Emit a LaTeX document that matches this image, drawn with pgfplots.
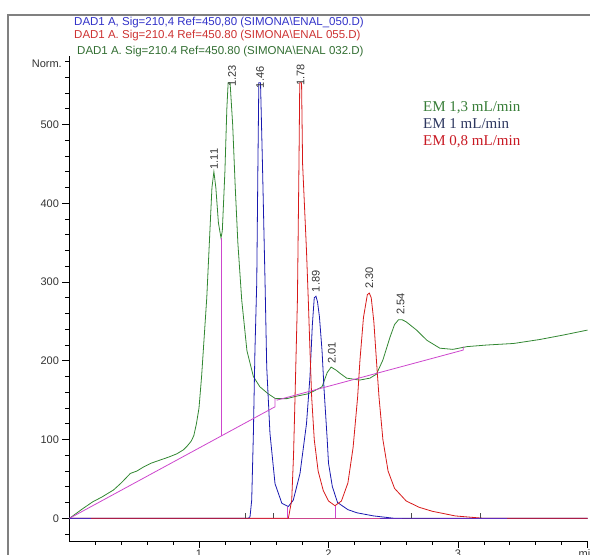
\documentclass[border=0pt]{standalone}
\usepackage{pgfplots}
\pgfplotsset{compat=1.18}
\usepackage{fontspec}
\setmainfont{Liberation Sans}
\newfontfamily\timesfont{Liberation Serif}

\definecolor{cgreen}{RGB}{50,135,50}
\definecolor{cblue}{RGB}{25,25,175}
\definecolor{cred}{RGB}{215,25,25}
\definecolor{cmag}{RGB}{205,70,205}
\definecolor{cbase}{RGB}{205,70,140}
\definecolor{tblue}{RGB}{50,50,200}
\definecolor{tred}{RGB}{205,50,50}
\definecolor{tgreen}{RGB}{50,110,50}
\definecolor{lgreen}{RGB}{55,125,55}
\definecolor{lblue}{RGB}{45,55,95}
\definecolor{lred}{RGB}{200,25,35}

\begin{document}
\begin{tikzpicture}
\begin{axis}[
    at={(0pt,0pt)}, anchor=south west,
    scale only axis, width=518pt, height=485pt,
    xmin=0, xmax=4, ymin=-28.8, ymax=587,
    axis x line*=bottom, axis y line*=left,
    axis line style={-, line width=0.8pt},
    tick align=outside,
    xtick={1,2,3,4}, xticklabels={1,2,3,min},
    minor xtick={0.2,0.4,0.6,0.8,1.2,1.4,1.6,1.8,2.2,2.4,2.6,2.8,3.2,3.4,3.6,3.8},
    ytick={0,100,200,300,400,500},
    minor ytick={-20,20,40,...,580},
    major tick length=7pt, minor tick length=4pt,
    tick style={black, line width=0.7pt},
    ticklabel style={font=\fontsize{11}{13}\selectfont, text=black!80},
    xticklabel style={yshift=2pt},
    /pgf/number format/assume math mode=true,
]
% baseline
\addplot[cbase, line width=0.8pt] coordinates {(0,0) (4,0)};

% EM 1,3 mL/min
\addplot[cgreen, line width=0.8pt] coordinates {
(0.00,0) (0.05,6) (0.10,12) (0.18,21) (0.25,27) (0.34,36) (0.40,45) (0.47,57)
(0.52,60) (0.57,65) (0.63,70) (0.70,74) (0.77,78) (0.83,82) (0.88,87) (0.91,92)
(0.94,98) (0.96,105) (0.98,120) (1.00,140) (1.02,180) (1.04,230) (1.06,280)
(1.08,350) (1.10,420) (1.115,440) (1.13,420) (1.15,375) (1.17,356) (1.18,365)
(1.20,440) (1.215,520) (1.225,553) (1.24,553) (1.26,500) (1.28,420) (1.30,350)
(1.33,277) (1.37,213) (1.42,180) (1.47,167) (1.535,158) (1.59,152) (1.68,152)
(1.75,155) (1.84,158) (1.88,161) (1.95,167) (1.99,185) (2.02,192) (2.06,188)
(2.09,184) (2.14,178) (2.24,175.5) (2.32,178) (2.37,183) (2.42,201) (2.475,230)
(2.51,246) (2.54,252) (2.57,252) (2.60,249.5) (2.68,239) (2.76,226) (2.86,216)
(2.96,214.5) (3.07,218) (3.22,220) (3.43,222) (3.63,227) (3.81,232.6) (4.00,239)
};

% EM 1 mL/min
\addplot[cblue, line width=0.8pt] coordinates {
(0,0) (1.38,0) (1.394,2) (1.407,23) (1.42,108) (1.432,213) (1.446,300)
(1.455,450) (1.462,553) (1.475,553) (1.49,450) (1.51,300) (1.523,192)
(1.548,108) (1.587,44) (1.64,19) (1.69,15) (1.728,23) (1.78,57) (1.83,120)
(1.857,180) (1.875,245) (1.89,280) (1.903,282) (1.915,275) (1.93,256)
(1.95,213) (1.966,163) (1.99,100) (2.00,70) (2.03,40) (2.07,20) (2.15,11)
(2.22,7) (2.35,3) (2.51,0) (4.0,0)
};

% EM 0,8 mL/min
\addplot[cred, line width=0.8pt] coordinates {
(0,0) (1.69,0) (1.716,23) (1.73,80) (1.741,150) (1.76,277) (1.772,450)
(1.778,553) (1.792,553) (1.80,450) (1.83,340) (1.844,277) (1.857,213)
(1.87,154) (1.89,100) (1.92,60) (1.96,35) (2.00,22) (2.05,16) (2.10,22)
(2.15,45) (2.19,90) (2.225,154) (2.243,201) (2.27,255) (2.30,284) (2.315,286)
(2.33,280) (2.35,250) (2.37,201) (2.39,154) (2.42,100) (2.46,60) (2.51,38)
(2.60,22) (2.70,14) (2.80,9) (2.98,3) (3.2,0) (4.0,0)
};

% integration baselines and drop lines
\addplot[cmag, line width=0.8pt] coordinates {(0,0) (1.587,141.6) (1.587,152.6)};
\addplot[cmag, line width=0.8pt] coordinates {(1.175,105) (1.175,356)};
\addplot[cmag, line width=0.8pt] coordinates {(1.6,150) (3.04,213.6) (3.04,218)};
\addplot[cmag, line width=0.8pt] coordinates {(1.68,0) (1.68,15)};
\addplot[cmag, line width=0.8pt] coordinates {(2.056,0) (2.056,16)};
\addplot[black!70, line width=0.7pt] coordinates {(1.36,0) (1.36,7)};
\addplot[black!70, line width=0.7pt] coordinates {(1.574,0) (1.574,7)};
\addplot[black!70, line width=0.7pt] coordinates {(2.64,0) (2.64,7)};
\addplot[black!70, line width=0.7pt] coordinates {(3.17,0) (3.17,7)};
\addplot[cblue!70!cmag, line width=1.6pt] coordinates {(0,0) (0.165,0)};
\addplot[cblue!60!cmag, line width=1.4pt] coordinates {(2.40,0) (2.57,0)};
\addplot[cblue!60!cmag, line width=1.4pt] coordinates {(2.86,0) (3.38,0)};

% retention time labels
\addplot[draw=none, mark=none, nodes near coords, point meta=explicit symbolic,
    every node near coord/.append style={rotate=90, anchor=west, inner sep=0pt,
        font=\fontsize{11}{13}\selectfont, text=black!80}]
    table[meta=lab, row sep=\\] {
    x y lab \\
    1.116 443 1.11 \\
    1.255 548 1.23 \\
    1.471 546 1.46 \\
    1.785 549 1.78 \\
    1.903 287 1.89 \\
    2.025 196 2.01 \\
    2.315 291 2.30 \\
    2.557 258 2.54 \\
};
\end{axis}

% screenshot frame
\draw[black!50, line width=2pt] (-61.5pt,-20pt) -- (-61.5pt,526pt) -- (530pt,526pt);

% signal titles
\node[anchor=base west, inner sep=0pt, text=tblue, font=\fontsize{11.5}{13}\selectfont]
  at (4.5pt,515pt) {DAD1 A, Sig=210,4 Ref=450,80 (SIMONA\textbackslash ENAL\_050.D)};
\node[anchor=base west, inner sep=0pt, text=tred, font=\fontsize{11.5}{13}\selectfont]
  at (4.5pt,502.7pt) {DAD1 A. Sig=210.4 Ref=450.80 (SIMONA\textbackslash ENAL 055.D)};
\node[anchor=base west, inner sep=0pt, text=tgreen, font=\fontsize{11.5}{13}\selectfont]
  at (7.5pt,486pt) {DAD1 A. Sig=210.4 Ref=450.80 (SIMONA\textbackslash ENAL 032.D)};
\node[anchor=base east, inner sep=0pt, text=black!80, font=\fontsize{11}{13}\selectfont]
  at (-7.5pt,473pt) {Norm.};

% flow-rate legend
\node[anchor=base west, inner sep=0pt, text=lgreen, font=\timesfont\fontsize{15}{17}\selectfont]
  at (353.5pt,429.3pt) {EM 1,3 mL/min};
\node[anchor=base west, inner sep=0pt, text=lblue, font=\timesfont\fontsize{15}{17}\selectfont]
  at (353.5pt,412.7pt) {EM 1 mL/min};
\node[anchor=base west, inner sep=0pt, text=lred, font=\timesfont\fontsize{15}{17}\selectfont]
  at (353.5pt,395.3pt) {EM 0,8 mL/min};

\pgfresetboundingbox
\path[use as bounding box] (-69.5pt,-14pt) rectangle (520.5pt,541pt);
\end{tikzpicture}
\end{document}
